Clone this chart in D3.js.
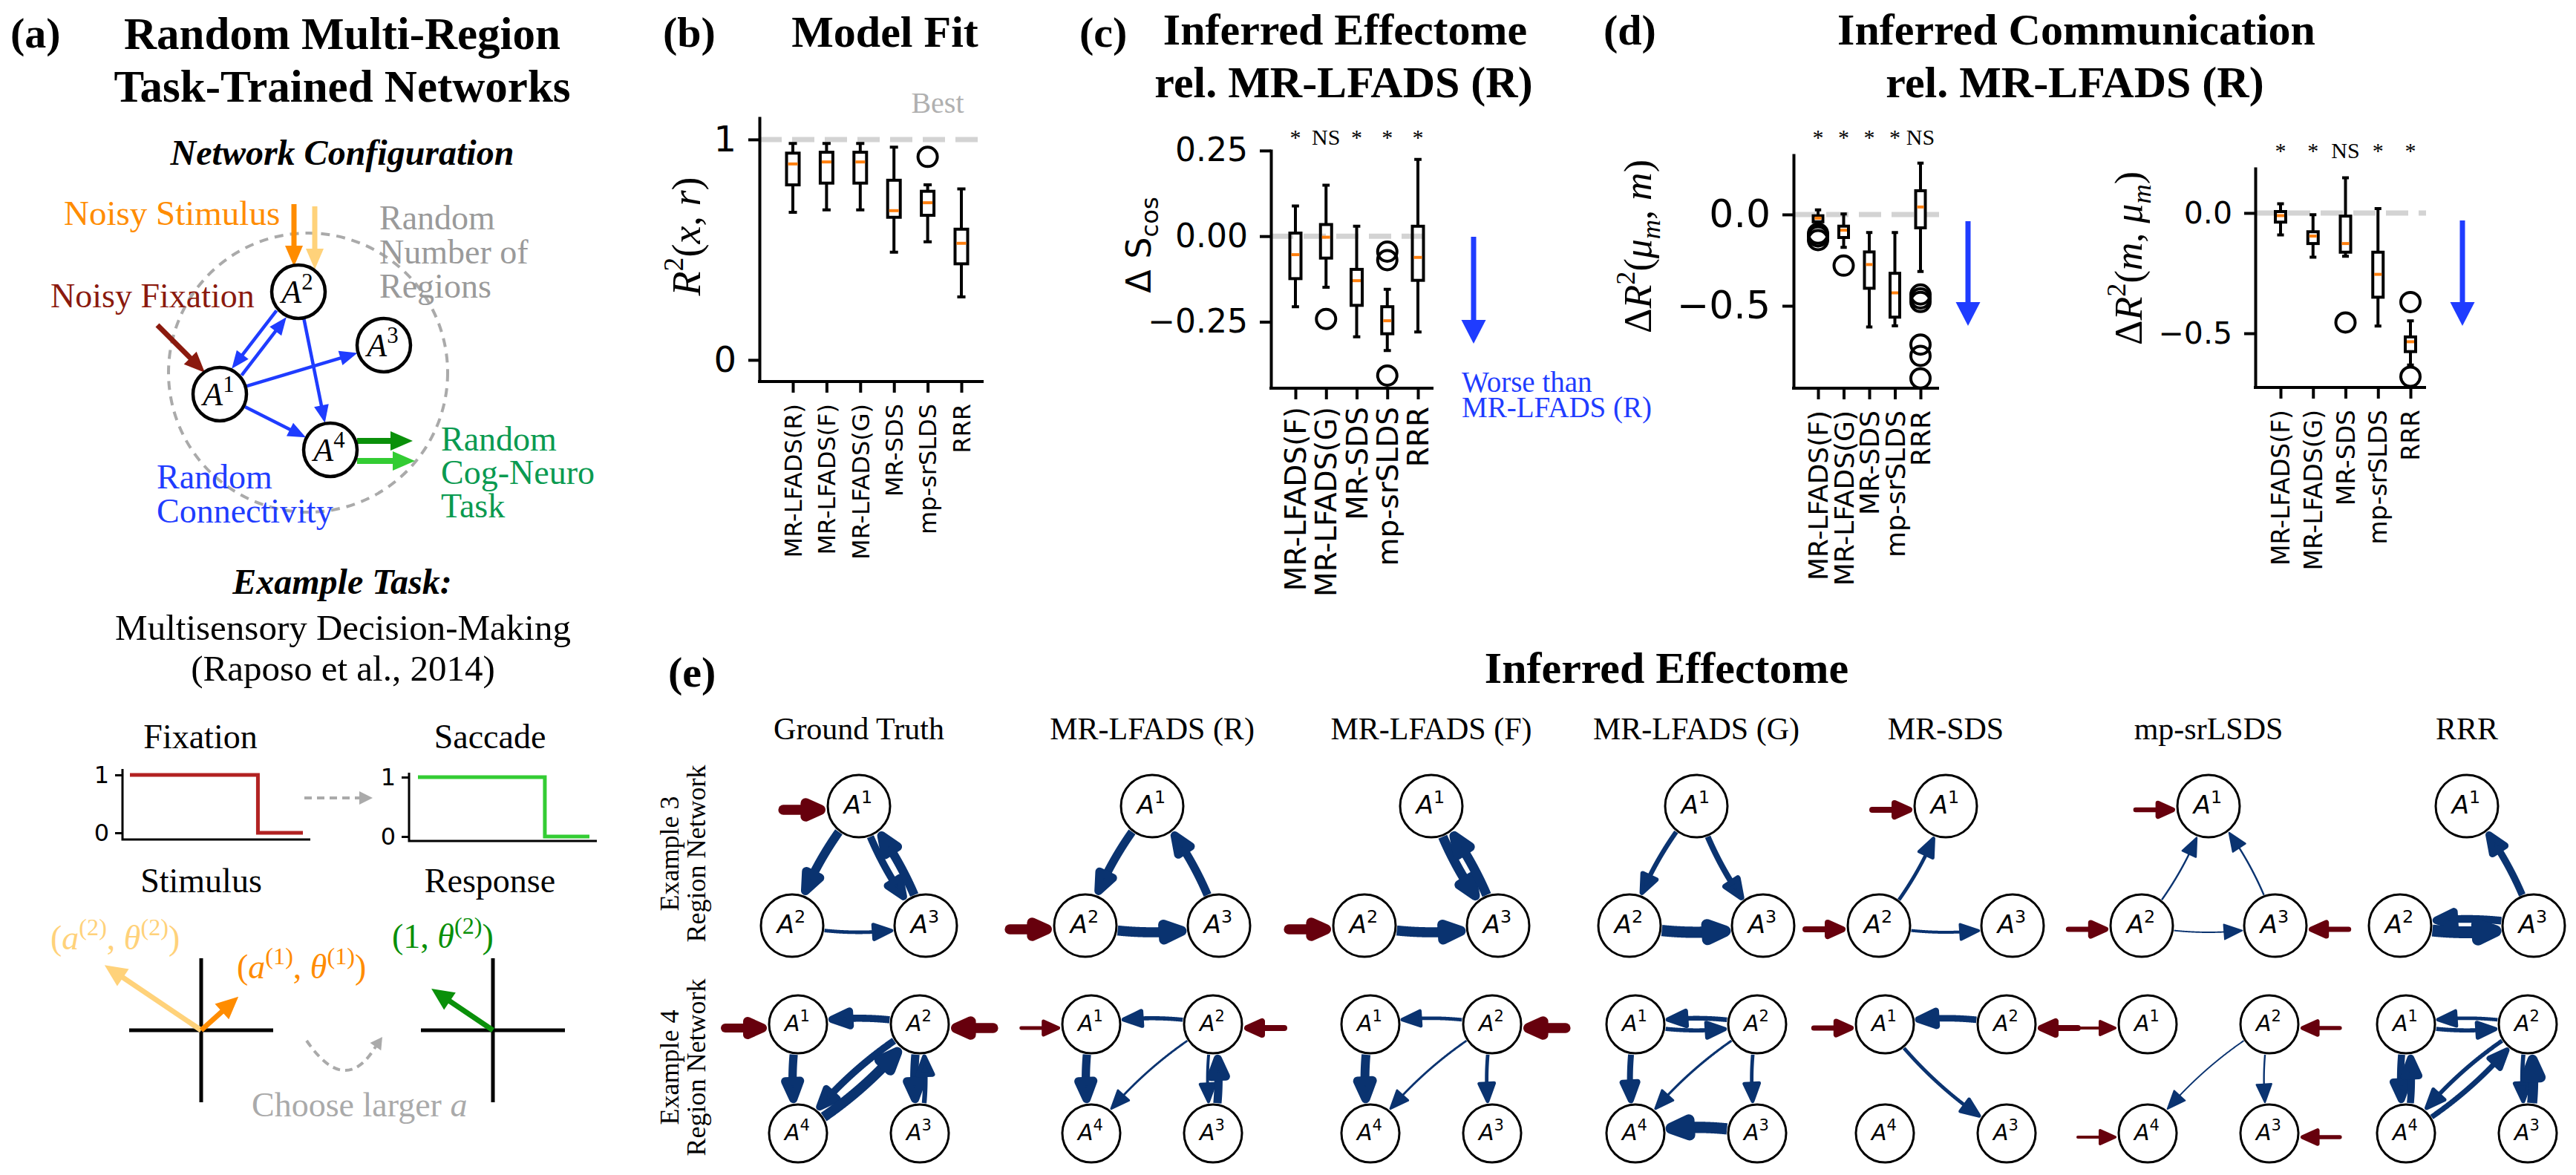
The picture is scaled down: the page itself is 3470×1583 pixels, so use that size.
<!DOCTYPE html>
<html>
<head>
<meta charset="utf-8">
<script src="https://cdn.jsdelivr.net/npm/d3@7/dist/d3.min.js"></script>
<style>
  body { margin: 0; background: #fff; }
</style>
</head>
<body>
<script>
// ---------- data ----------

// (b) model fit, box stats per method: [low whisker, q1, median, q3, high whisker]
var fitMethods = ["MR-LFADS(R)", "MR-LFADS(F)", "MR-LFADS(G)", "MR-SDS", "mp-srSLDS", "RRR"];
var fitBoxes = [
  [0.670, 0.794, 0.889, 0.938, 0.982],
  [0.681, 0.802, 0.898, 0.942, 0.982],
  [0.681, 0.802, 0.898, 0.942, 0.982],
  [0.489, 0.647, 0.677, 0.815, 0.965],
  [0.536, 0.656, 0.713, 0.765, 0.794],
  [0.286, 0.436, 0.529, 0.593, 0.776]
];
var fitOutliers = [[], [], [], [], [0.921], []];

// (c) effectome relative to MR-LFADS (R)
var relMethods = ["MR-LFADS(F)", "MR-LFADS(G)", "MR-SDS", "mp-srSLDS", "RRR"];
var effBoxes = [
  [-0.206, -0.124, -0.054, 0.009, 0.088],
  [-0.149, -0.064, -0.003, 0.034, 0.149],
  [-0.294, -0.202, -0.130, -0.097, 0.029],
  [-0.334, -0.285, -0.247, -0.206, -0.155],
  [-0.280, -0.129, -0.062, 0.029, 0.224]
];
var effOutliers = [[], [-0.242], [], [-0.045, -0.07, -0.407], []];
var effSig = ["*", "NS", "*", "*", "*"];

// (d) communication, left: dR2(mu_m, m)
var commABoxes = [
  [-0.055, -0.040, -0.020, -0.007, 0.025],
  [-0.180, -0.126, -0.086, -0.064, 0.003],
  [-0.616, -0.404, -0.274, -0.205, -0.099],
  [-0.610, -0.562, -0.429, -0.322, -0.099],
  [-0.312, -0.073, 0.041, 0.130, 0.281]
];
var commAOutliers = [[-0.105, -0.12, -0.14], [-0.28], [], [], [-0.438, -0.459, -0.479, -0.712, -0.774, -0.897]];
var commASig = ["*", "*", "*", "*", "NS"];

// (d) communication, right: dR2(m, mu_m)
var commBBoxes = [
  [-0.091, -0.038, -0.011, 0.006, 0.038],
  [-0.184, -0.127, -0.096, -0.078, -0.007],
  [-0.180, -0.163, -0.127, -0.013, 0.146],
  [-0.470, -0.350, -0.255, -0.163, 0.018],
  [-0.632, -0.576, -0.535, -0.515, -0.448]
];
var commBOutliers = [[], [], [-0.455], [], [-0.37, -0.68]];
var commBSig = ["*", "*", "NS", "*", "*"];

// (e) inferred effectome graphs
var graphMethods = ["Ground Truth", "MR-LFADS (R)", "MR-LFADS (F)", "MR-LFADS (G)", "MR-SDS", "mp-srLSDS", "RRR"];
// [method, from region, to region, strength]
var edges3 = [
  ["Ground Truth", 1, 2, 0.75], ["Ground Truth", 1, 3, 0.62], ["Ground Truth", 3, 1, 0.75], ["Ground Truth", 2, 3, 0.3],
  ["MR-LFADS (R)", 1, 2, 0.7], ["MR-LFADS (R)", 3, 1, 0.7], ["MR-LFADS (R)", 2, 3, 0.85],
  ["MR-LFADS (F)", 1, 3, 0.8], ["MR-LFADS (F)", 3, 1, 0.8], ["MR-LFADS (F)", 2, 3, 0.85],
  ["MR-LFADS (G)", 1, 2, 0.4], ["MR-LFADS (G)", 1, 3, 0.5], ["MR-LFADS (G)", 2, 3, 0.95],
  ["MR-SDS", 2, 1, 0.3], ["MR-SDS", 2, 3, 0.25],
  ["mp-srLSDS", 2, 1, 0.15], ["mp-srLSDS", 3, 1, 0.15], ["mp-srLSDS", 2, 3, 0.12],
  ["RRR", 3, 1, 0.6], ["RRR", 3, 2, 0.65], ["RRR", 2, 3, 1.0]
];
// [method, region, strength]
var inputs3 = [
  ["Ground Truth", 1, 0.85], ["MR-LFADS (R)", 2, 0.85], ["MR-LFADS (F)", 2, 0.85],
  ["MR-SDS", 1, 0.5], ["MR-SDS", 2, 0.5],
  ["mp-srLSDS", 1, 0.4], ["mp-srLSDS", 2, 0.45], ["mp-srLSDS", 3, 0.45]
];
var edges4 = [
  ["Ground Truth", 2, 1, 0.6], ["Ground Truth", 1, 4, 0.7], ["Ground Truth", 2, 4, 0.6], ["Ground Truth", 4, 2, 0.85],
  ["Ground Truth", 2, 3, 0.7], ["Ground Truth", 3, 2, 0.4],
  ["MR-LFADS (R)", 2, 1, 0.35], ["MR-LFADS (R)", 1, 4, 0.7], ["MR-LFADS (R)", 2, 4, 0.18],
  ["MR-LFADS (R)", 2, 3, 0.25], ["MR-LFADS (R)", 3, 2, 0.7],
  ["MR-LFADS (F)", 2, 1, 0.3], ["MR-LFADS (F)", 1, 4, 0.75], ["MR-LFADS (F)", 2, 4, 0.18], ["MR-LFADS (F)", 2, 3, 0.3],
  ["MR-LFADS (G)", 2, 1, 0.4], ["MR-LFADS (G)", 1, 2, 0.35], ["MR-LFADS (G)", 1, 4, 0.5],
  ["MR-LFADS (G)", 2, 4, 0.2], ["MR-LFADS (G)", 2, 3, 0.3], ["MR-LFADS (G)", 3, 4, 0.95],
  ["MR-SDS", 2, 1, 0.55], ["MR-SDS", 1, 3, 0.3],
  ["mp-srLSDS", 2, 4, 0.12], ["mp-srLSDS", 2, 3, 0.15],
  ["RRR", 2, 1, 0.3], ["RRR", 1, 2, 0.35], ["RRR", 1, 4, 0.6], ["RRR", 4, 1, 0.6],
  ["RRR", 2, 4, 0.35], ["RRR", 4, 2, 0.45], ["RRR", 2, 3, 0.35], ["RRR", 3, 2, 0.85]
];
var inputs4 = [
  ["Ground Truth", 1, 0.75], ["Ground Truth", 2, 0.85],
  ["MR-LFADS (R)", 1, 0.3], ["MR-LFADS (R)", 2, 0.5],
  ["MR-LFADS (F)", 2, 0.85],
  ["MR-SDS", 1, 0.45], ["MR-SDS", 2, 0.5],
  ["mp-srLSDS", 1, 0.25], ["mp-srLSDS", 2, 0.35], ["mp-srLSDS", 4, 0.25], ["mp-srLSDS", 3, 0.35]
];

// (a) example task signals
var taskTime = [0, 74, 100];
var fixationSignal = [1, 0, 0];
var saccadeSignal = [1, 0, 0];
var stimAmp = [0.43, 1.0];      // a(1), a(2)
var stimAngle = [42, 146];      // degrees
var respAmp = [1];
var respAngle = [146];

// ---------- setup ----------
var W = 3470, H = 1583;
var serif = "'Liberation Serif','Times New Roman',serif";
var sans = "'DejaVu Sans',sans-serif";
var blue = "#1f3cff", navy = "#0a3370", wine = "#67000d";

var svg = d3.select("body").append("svg")
  .attr("width", W).attr("height", H)
  .style("background", "#fff");

function txt(g, x, y, s, o) {
  o = o || {};
  return g.append("text").attr("x", x).attr("y", y).text(s)
    .attr("font-size", o.fs || 46)
    .attr("font-family", o.ff || serif)
    .attr("font-weight", o.fw || null)
    .attr("font-style", o.it ? "italic" : null)
    .attr("fill", o.fill || "#000")
    .attr("text-anchor", o.anchor || "start");
}

// text with sub/superscripts: parts = [{t, i, s:'sup'|'sub'}]
// if cx is given the whole run is centred on it (measured, start-anchored)
function rich(t, parts, fs, cx) {
  var shift = 0;
  t.attr("font-size", fs).attr("text-anchor", "start");
  parts.forEach(function(p) {
    var target = p.s === "sup" ? -0.42 * fs : p.s === "sub" ? 0.22 * fs : 0;
    var ts = t.append("tspan").text(p.t).attr("dy", target - shift)
      .attr("font-size", p.s ? fs * 0.7 : fs);
    if (p.i) ts.attr("font-style", "italic");
    shift = target;
  });
  if (cx !== undefined) {
    var w = t.node().getBBox().width;
    t.attr("x", cx - w / 2);
  }
  return t;
}

function arrow(g, x1, y1, x2, y2, color, w, hl, hw, o) {
  o = o || {};
  var dx = x2 - x1, dy = y2 - y1, L = Math.hypot(dx, dy), ux = dx / L, uy = dy / L;
  var bx = x2 - ux * hl, by = y2 - uy * hl;
  var ln = g.append("line").attr("x1", x1).attr("y1", y1)
    .attr("x2", bx + ux * 2).attr("y2", by + uy * 2)
    .attr("stroke", color).attr("stroke-width", w)
    .attr("stroke-linecap", o.cap || "butt");
  if (o.dash) ln.attr("stroke-dasharray", o.dash);
  g.append("path")
    .attr("d", "M" + x2 + "," + y2 + "L" + (bx - uy * hw / 2) + "," + (by + ux * hw / 2) +
      "L" + (bx + uy * hw / 2) + "," + (by - ux * hw / 2) + "Z")
    .attr("fill", color)
    .attr("stroke", o.hstroke ? color : "none")
    .attr("stroke-width", o.hstroke || 0)
    .attr("stroke-linejoin", "round");
}

// ---------- panel (a) ----------
var ga = svg.append("g");
txt(ga, 14, 64, "(a)", { fs: 58, fw: "bold" });
txt(ga, 461, 66, "Random Multi-Region", { fs: 61, fw: "bold", anchor: "middle" });
txt(ga, 461, 137, "Task-Trained Networks", { fs: 61, fw: "bold", anchor: "middle" });
txt(ga, 461, 222, "Network Configuration", { fs: 48, fw: "bold", it: true, anchor: "middle" });

ga.append("circle").attr("cx", 415).attr("cy", 502).attr("r", 188)
  .attr("fill", "none").attr("stroke", "#aaa").attr("stroke-width", 4)
  .attr("stroke-dasharray", "12,9");

var schemNodes = { 1: [296, 531], 2: [402, 393], 3: [517, 465], 4: [445, 606] };
var schemR = 36;
var schemEdges = [[2, 1, 8], [1, 2, 8], [1, 3, 0], [1, 4, 0], [2, 4, 0]];
schemEdges.forEach(function(e) {
  var a = schemNodes[e[0]], b = schemNodes[e[1]];
  var dx = b[0] - a[0], dy = b[1] - a[1], L = Math.hypot(dx, dy), ux = dx / L, uy = dy / L;
  var px = -uy * e[2], py = ux * e[2];
  arrow(ga, a[0] + ux * (schemR + 2) + px, a[1] + uy * (schemR + 2) + py,
    b[0] - ux * (schemR + 1) + px, b[1] - uy * (schemR + 1) + py, blue, 4.5, 24, 20);
});
// inputs / outputs
arrow(ga, 396, 275, 396, 359, "#ff8c00", 7, 28, 24);
arrow(ga, 424, 278, 424, 363, "#ffd27a", 7, 28, 24);
arrow(ga, 212, 438, 276, 502, "#8b1a0e", 7, 28, 24);
arrow(ga, 481, 594, 556, 594, "#0a900a", 8, 30, 26);
arrow(ga, 481, 621, 559, 621, "#33cc33", 8, 30, 26);

Object.keys(schemNodes).forEach(function(k) {
  var p = schemNodes[k];
  ga.append("circle").attr("cx", p[0]).attr("cy", p[1]).attr("r", schemR)
    .attr("fill", "#fff").attr("stroke", "#000").attr("stroke-width", 4.5);
  var t = ga.append("text").attr("x", p[0]).attr("y", p[1] + 15).attr("font-family", serif);
  rich(t, [{ t: "A", i: true }, { t: k, s: "sup" }], 44, p[0]);
});

txt(ga, 86, 303, "Noisy Stimulus", { fill: "#ff8c00", fs: 47 });
txt(ga, 68, 414, "Noisy Fixation", { fill: "#8b1a0e", fs: 46 });
["Random", "Number of", "Regions"].forEach(function(s, i) {
  txt(ga, 511, 309 + i * 46, s, { fill: "#9a9a9a", fs: 46 });
});
["Random", "Connectivity"].forEach(function(s, i) {
  txt(ga, 211, 658 + i * 46, s, { fill: blue, fs: 46 });
});
["Random", "Cog-Neuro", "Task"].forEach(function(s, i) {
  txt(ga, 594, 607 + i * 45, s, { fill: "#0a9a50", fs: 46 });
});

txt(ga, 461, 800, "Example Task:", { fs: 48, fw: "bold", it: true, anchor: "middle" });
txt(ga, 462, 862, "Multisensory Decision-Making", { fs: 49, anchor: "middle" });
txt(ga, 462, 917, "(Raposo et al., 2014)", { fs: 49, anchor: "middle" });
txt(ga, 270, 1008, "Fixation", { fs: 46, anchor: "middle" });
txt(ga, 660, 1008, "Saccade", { fs: 46, anchor: "middle" });
txt(ga, 271, 1202, "Stimulus", { fs: 46, anchor: "middle" });
txt(ga, 660, 1202, "Response", { fs: 46, anchor: "middle" });

// small step plots
function stepPlot(g, axX, axTop, axBot, axRight, xr, yr, signal, color) {
  var x = d3.scaleLinear().domain([0, 100]).range(xr);
  var y = d3.scaleLinear().domain([0, 1]).range(yr);
  g.append("path").attr("d", "M" + axX + "," + axTop + "V" + axBot + "H" + axRight)
    .attr("fill", "none").attr("stroke", "#000").attr("stroke-width", 3);
  var ax = d3.axisLeft(y).tickValues([0, 1]).tickFormat(d3.format("d")).tickSize(10).tickPadding(8).tickSizeOuter(0);
  var ag = g.append("g").attr("transform", "translate(" + axX + ",0)").call(ax);
  ag.select(".domain").remove();
  ag.selectAll("line").attr("stroke-width", 3);
  ag.selectAll("text").attr("font-size", 32).attr("font-family", sans);
  var line = d3.line().x(function(d, i) { return x(taskTime[i]); }).y(function(d) { return y(d); })
    .curve(d3.curveStepAfter);
  g.append("path").attr("d", line(signal)).attr("fill", "none")
    .attr("stroke", color).attr("stroke-width", 5);
}
stepPlot(ga, 165, 1036, 1131, 418, [175, 408], [1122, 1044], fixationSignal, "#b22222");
stepPlot(ga, 551, 1041, 1133, 804, [563, 794], [1127, 1047], saccadeSignal, "#33cc33");
arrow(ga, 410, 1075, 502, 1075, "#aaa", 4, 18, 18, { dash: "10,7" });

// stimulus / response crosses
function cross(g, cx, cy) {
  g.append("path").attr("d", "M" + (cx - 97) + "," + cy + "H" + (cx + 97) + "M" + cx + "," + (cy - 97) + "V" + (cy + 97))
    .attr("stroke", "#000").attr("stroke-width", 5);
}
cross(ga, 271, 1388);
cross(ga, 664, 1388);
var stimLen = d3.scaleLinear().domain([0, 1]).range([0, 157]);
var respLen = d3.scaleLinear().domain([0, 1]).range([0, 100]);
var stimColors = ["#ff8c00", "#ffd27a"];
[1, 0].forEach(function(i) {
  var a = stimAngle[i] * Math.PI / 180, L = stimLen(stimAmp[i]);
  arrow(ga, 271, 1388, 271 + L * Math.cos(a), 1388 - L * Math.sin(a), stimColors[i], 7, 30, 28);
});
respAmp.forEach(function(v, i) {
  var a = respAngle[i] * Math.PI / 180, L = respLen(v);
  arrow(ga, 664, 1388, 664 + L * Math.cos(a), 1388 - L * Math.sin(a), "#0a900a", 7, 30, 28);
});
rich(ga.append("text").attr("x", 68).attr("y", 1279).attr("fill", "#ffd27a").attr("font-family", serif),
  [{ t: "(" }, { t: "a", i: true }, { t: "(2)", s: "sup" }, { t: ", " }, { t: "θ", i: true }, { t: "(2)", s: "sup" }, { t: ")" }], 46);
rich(ga.append("text").attr("x", 319).attr("y", 1318).attr("fill", "#ff8c00").attr("font-family", serif),
  [{ t: "(" }, { t: "a", i: true }, { t: "(1)", s: "sup" }, { t: ", " }, { t: "θ", i: true }, { t: "(1)", s: "sup" }, { t: ")" }], 46);
rich(ga.append("text").attr("x", 528).attr("y", 1277).attr("fill", "#0a900a").attr("font-family", serif),
  [{ t: "(1, " }, { t: "θ", i: true }, { t: "(2)", s: "sup" }, { t: ")" }], 46);

ga.append("path").attr("d", "M413,1402Q465,1478 506,1410")
  .attr("fill", "none").attr("stroke", "#aaa").attr("stroke-width", 4).attr("stroke-dasharray", "10,7");
arrow(ga, 506, 1410, 515, 1397, "#aaa", 4, 16, 18);
rich(ga.append("text").attr("x", 339).attr("y", 1504).attr("fill", "#aaa").attr("font-family", serif),
  [{ t: "Choose larger " }, { t: "a", i: true }], 46);

// ---------- box plot panels ----------
function boxPanel(o) {
  var g = svg.append("g");
  var x = d3.scalePoint().domain(o.cats).range(o.catRange);
  var y = d3.scaleLinear().domain(o.domain).range([o.yBot, o.yTop]);

  g.append("line").attr("x1", o.axisX).attr("x2", o.xEnd)
    .attr("y1", y(o.ref)).attr("y2", y(o.ref))
    .attr("stroke", "#d3d3d3").attr("stroke-width", 7).attr("stroke-dasharray", "30,14");

  var ya = d3.axisLeft(y).tickValues(o.ticks).tickFormat(o.fmt).tickSize(15).tickPadding(16).tickSizeOuter(0);
  var yg = g.append("g").attr("transform", "translate(" + o.axisX + ",0)").call(ya);
  yg.select(".domain").attr("stroke-width", 4);
  yg.selectAll(".tick line").attr("stroke-width", 4);
  yg.selectAll(".tick text").attr("font-size", o.tickFs).attr("font-family", sans);

  var xa = d3.axisBottom(x).tickSize(15).tickSizeOuter(0);
  var xg = g.append("g").attr("transform", "translate(0," + o.yBot + ")").call(xa);
  xg.select(".domain").remove();
  xg.selectAll(".tick line").attr("stroke-width", 4);
  xg.selectAll(".tick text")
    .attr("transform", "rotate(-90)").attr("text-anchor", "end")
    .attr("x", -o.labPad).attr("y", 0).attr("dy", "0.35em")
    .attr("font-size", o.catFs).attr("font-family", sans);
  g.append("line").attr("x1", o.axisX - 2).attr("x2", o.xEnd)
    .attr("y1", o.yBot).attr("y2", o.yBot).attr("stroke", "#000").attr("stroke-width", 4);

  var bw = o.bw, cw = o.bw * 0.65;
  o.cats.forEach(function(c, i) {
    var b = o.boxes[i], cx = x(c);
    g.append("path")
      .attr("d", "M" + cx + "," + y(b[4]) + "V" + y(b[3]) + "M" + cx + "," + y(b[1]) + "V" + y(b[0]) +
        "M" + (cx - cw / 2) + "," + y(b[4]) + "H" + (cx + cw / 2) +
        "M" + (cx - cw / 2) + "," + y(b[0]) + "H" + (cx + cw / 2))
      .attr("stroke", "#000").attr("stroke-width", 4).attr("fill", "none");
    g.append("rect").attr("x", cx - bw / 2).attr("y", y(b[3]))
      .attr("width", bw).attr("height", y(b[1]) - y(b[3]))
      .attr("fill", "none").attr("stroke", "#000").attr("stroke-width", 4);
    g.append("line").attr("x1", cx - bw / 2 + 2).attr("x2", cx + bw / 2 - 2)
      .attr("y1", y(b[2])).attr("y2", y(b[2]))
      .attr("stroke", "#ff7f0e").attr("stroke-width", 4);
    o.outliers[i].forEach(function(v) {
      g.append("circle").attr("cx", cx).attr("cy", y(v)).attr("r", 13)
        .attr("fill", "none").attr("stroke", "#000").attr("stroke-width", 4);
    });
    if (o.sig) {
      txt(g, cx, o.sigY, o.sig[i], { fs: 30, anchor: "middle" });
    }
  });

  // rotated y label, centred on labY (local x runs upward after rotation)
  var lab = g.append("text")
    .attr("transform", "translate(" + o.labX + "," + o.labY + ") rotate(-90)")
    .attr("y", 0.35 * o.labFs)
    .attr("font-family", o.labFont);
  rich(lab, o.label, o.labFs, 0);
  return { x: x, y: y, g: g };
}

var fmt2 = d3.format(".2f"), fmt1 = d3.format(".1f");

// (b)
txt(svg, 893, 63, "(b)", { fs: 58, fw: "bold" });
txt(svg, 1192, 63, "Model Fit", { fs: 60, fw: "bold", anchor: "middle" });
boxPanel({
  cats: fitMethods, catRange: [1068, 1295], boxes: fitBoxes, outliers: fitOutliers,
  axisX: 1023, xEnd: 1325, yTop: 157, yBot: 514, domain: [-0.098, 1.104], ref: 1,
  ticks: [0, 1], fmt: d3.format("d"), tickFs: 48, catFs: 32, labPad: 30, bw: 17,
  labX: 924, labY: 318, labFs: 54, labFont: serif,
  label: [{ t: "R", i: true }, { t: "2", s: "sup" }, { t: "(" }, { t: "x", i: true }, { t: ", " }, { t: "r", i: true }, { t: ")" }]
});
txt(svg, 1263, 152, "Best", { fs: 40, fill: "#b0b0b0", anchor: "middle" });

// (c)
txt(svg, 1454, 63, "(c)", { fs: 58, fw: "bold" });
txt(svg, 1812, 60, "Inferred Effectome", { fs: 60, fw: "bold", anchor: "middle" });
txt(svg, 1810, 131, "rel. MR-LFADS (R)", { fs: 60, fw: "bold", anchor: "middle" });
boxPanel({
  cats: relMethods, catRange: [1745, 1910], boxes: effBoxes, outliers: effOutliers, sig: effSig, sigY: 195,
  axisX: 1712, xEnd: 1931, yTop: 201, yBot: 523, domain: [-0.444, 0.254], ref: 0,
  ticks: [-0.25, 0, 0.25], fmt: fmt2, tickFs: 44, catFs: 39, labPad: 25, bw: 15,
  labX: 1534, labY: 330, labFs: 46, labFont: sans,
  label: [{ t: "Δ S" }, { t: "cos", s: "sub" }]
});
arrow(svg, 1985, 319, 1985, 463, blue, 7, 32, 33);
txt(svg, 1969, 528, "Worse than", { fs: 39, fill: blue });
txt(svg, 1969, 562, "MR-LFADS (R)", { fs: 39, fill: blue });

// (d)
txt(svg, 2160, 60, "(d)", { fs: 58, fw: "bold" });
txt(svg, 2797, 60, "Inferred Communication", { fs: 60, fw: "bold", anchor: "middle" });
txt(svg, 2795, 131, "rel. MR-LFADS (R)", { fs: 60, fw: "bold", anchor: "middle" });
boxPanel({
  cats: relMethods, catRange: [2449, 2587], boxes: commABoxes, outliers: commAOutliers, sig: commASig, sigY: 195,
  axisX: 2416, xEnd: 2612, yTop: 207, yBot: 523, domain: [-0.951, 0.333], ref: 0,
  ticks: [-0.5, 0], fmt: fmt1, tickFs: 52, catFs: 36, labPad: 30, bw: 13,
  labX: 2206, labY: 332, labFs: 52, labFont: serif,
  label: [{ t: "Δ" }, { t: "R", i: true }, { t: "2", s: "sup" }, { t: "(" }, { t: "μ", i: true }, { t: "m", i: true, s: "sub" },
    { t: ", " }, { t: "m", i: true }, { t: ")" }]
});
arrow(svg, 2651, 298, 2651, 439, blue, 7, 32, 33);
boxPanel({
  cats: relMethods, catRange: [3072, 3247], boxes: commBBoxes, outliers: commBOutliers, sig: commBSig, sigY: 213,
  axisX: 3038, xEnd: 3268, yTop: 225, yBot: 522, domain: [-0.725, 0.191], ref: 0,
  ticks: [-0.5, 0], fmt: fmt1, tickFs: 41, catFs: 33, labPad: 30, bw: 14,
  labX: 2867, labY: 348, labFs: 52, labFont: serif,
  label: [{ t: "Δ" }, { t: "R", i: true }, { t: "2", s: "sup" }, { t: "(" }, { t: "m", i: true }, { t: ", " },
    { t: "μ", i: true }, { t: "m", i: true, s: "sub" }, { t: ")" }]
});
arrow(svg, 3317, 297, 3317, 439, blue, 7, 32, 33);

// ---------- panel (e) ----------
var ge = svg.append("g");
txt(ge, 900, 925, "(e)", { fs: 58, fw: "bold" });
txt(ge, 2245, 920, "Inferred Effectome", { fs: 60, fw: "bold", anchor: "middle" });

// column centres of the small graphs (layout only)
var colX = d3.scaleOrdinal().domain(graphMethods).range([1157, 1552, 1928, 2285, 2621, 2975, 3323]);
var wScale = d3.scaleLinear().domain([0, 1]).range([0, 16]);

graphMethods.forEach(function(m) {
  txt(ge, colX(m), 996, m, { fs: 42, anchor: "middle" });
});
[["Example 3", "Region Network", 1150], ["Example 4", "Region Network", 1438]].forEach(function(r) {
  ge.append("text").attr("transform", "translate(914," + r[2] + ") rotate(-90)")
    .attr("text-anchor", "middle").attr("font-family", serif).attr("font-size", 36).text(r[0]);
  ge.append("text").attr("transform", "translate(950," + r[2] + ") rotate(-90)")
    .attr("text-anchor", "middle").attr("font-family", serif).attr("font-size", 36).text(r[1]);
});

function layout3(cx) { return { 1: [cx, 1086], 2: [cx - 90, 1247], 3: [cx + 90, 1247] }; }
function layout4(cx) { return { 1: [cx - 82, 1380], 2: [cx + 82, 1380], 4: [cx - 82, 1527], 3: [cx + 82, 1527] }; }
var side3 = { 1: -1, 2: -1, 3: 1 }, side4 = { 1: -1, 4: -1, 2: 1, 3: 1 };

function dist(a, b) { return Math.hypot(a[0] - b[0], a[1] - b[1]); }

function curvedEdge(g, p0, p2, r, w) {
  var dx = p2[0] - p0[0], dy = p2[1] - p0[1];
  var c = [(p0[0] + p2[0]) / 2 - 0.1 * dy, (p0[1] + p2[1]) / 2 + 0.1 * dx];
  var pts = d3.range(0, 1.0001, 0.002).map(function(t) {
    var u = 1 - t;
    return [u * u * p0[0] + 2 * u * t * c[0] + t * t * p2[0], u * u * p0[1] + 2 * u * t * c[1] + t * t * p2[1]];
  });
  var i0 = 0; while (i0 < pts.length - 1 && dist(pts[i0], p0) < r + 2) i0++;
  var i1 = pts.length - 1; while (i1 > 0 && dist(pts[i1], p2) < r + 2 + w * 0.5) i1--;
  var tip = pts[i1], hl = 24, hw = 20;
  var ib = i1; while (ib > i0 && dist(pts[ib], tip) < hl) ib--;
  var base = pts[ib], L = dist(tip, base);
  var ux = (tip[0] - base[0]) / L, uy = (tip[1] - base[1]) / L;
  g.append("path").attr("d", d3.line()(pts.slice(i0, ib + 1).concat([[base[0] + ux * 3, base[1] + uy * 3]])))
    .attr("fill", "none").attr("stroke", navy).attr("stroke-width", w);
  g.append("path")
    .attr("d", "M" + tip[0] + "," + tip[1] + "L" + (base[0] - uy * hw / 2) + "," + (base[1] + ux * hw / 2) +
      "L" + (base[0] + uy * hw / 2) + "," + (base[1] - ux * hw / 2) + "Z")
    .attr("fill", navy).attr("stroke", navy).attr("stroke-width", w).attr("stroke-linejoin", "round");
}

function inputArrow(g, p, side, r, w) {
  var tipX = p[0] + side * (r + 3 + w * 0.5), y = p[1] + 5;
  var tailX = tipX + side * 50;
  arrow(g, tailX, y, tipX, y, wine, w, 20, 18, { cap: "round", hstroke: w });
}

function drawGraph(g, pos, edges, inputs, sides, m, r, fs) {
  edges.filter(function(e) { return e[0] === m; }).forEach(function(e) {
    curvedEdge(g, pos[e[1]], pos[e[2]], r, wScale(e[3]));
  });
  inputs.filter(function(e) { return e[0] === m; }).forEach(function(e) {
    inputArrow(g, pos[e[1]], sides[e[1]], r, wScale(e[2]));
  });
  Object.keys(pos).forEach(function(k) {
    var p = pos[k];
    g.append("circle").attr("cx", p[0]).attr("cy", p[1]).attr("r", r)
      .attr("fill", "#fff").attr("stroke", "#000").attr("stroke-width", 3);
    var t = g.append("text").attr("x", p[0]).attr("y", p[1] + 0.36 * fs - 2).attr("font-family", sans);
    rich(t, [{ t: "A", i: true }, { t: k, s: "sup" }], fs, p[0]);
  });
}

graphMethods.forEach(function(m) {
  drawGraph(ge, layout3(colX(m)), edges3, inputs3, side3, m, 42, 34);
  drawGraph(ge, layout4(colX(m)), edges4, inputs4, side4, m, 39, 30);
});
</script>
</body>
</html>
